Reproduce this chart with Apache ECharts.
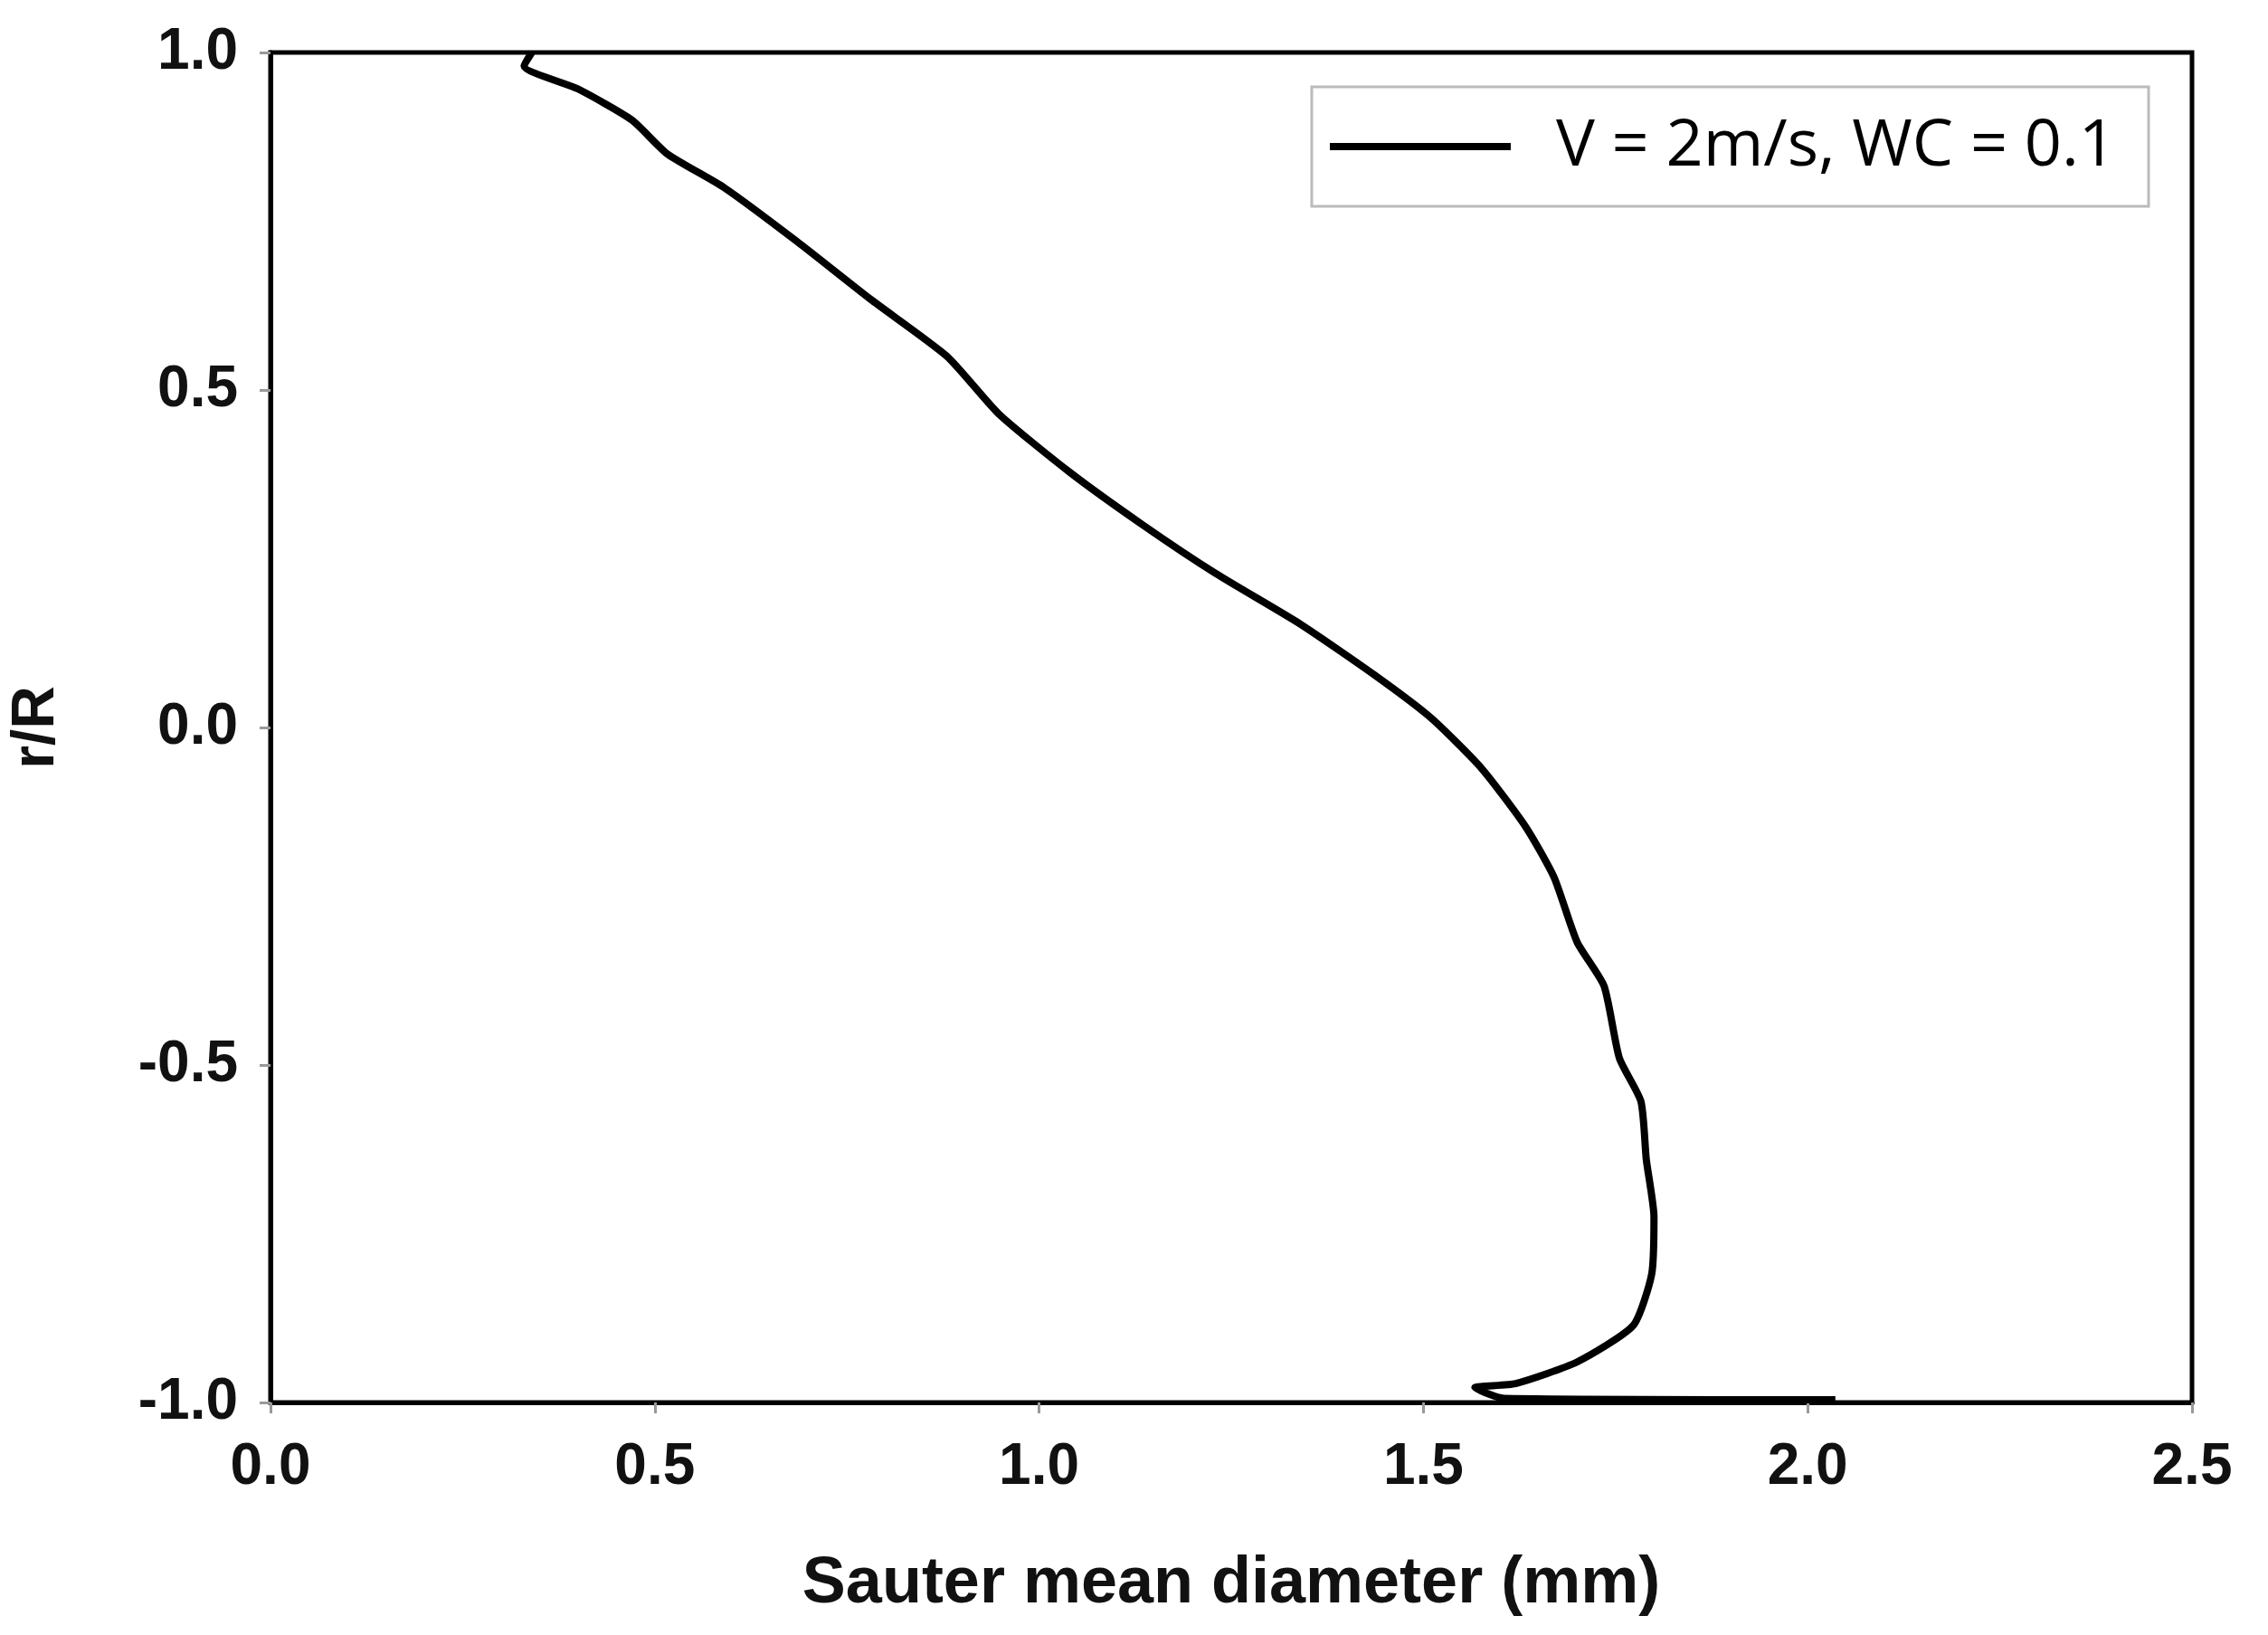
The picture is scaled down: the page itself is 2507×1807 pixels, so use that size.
<!DOCTYPE html>
<html>
<head>
<meta charset="utf-8">
<script src="https://cdn.jsdelivr.net/npm/echarts@6/dist/echarts.min.js"></script>
<style>html,body{margin:0;padding:0;background:#fff}#main{width:2507px;height:1807px}</style>
</head>
<body>
<div id="main"></div>
<script>
// Sauter mean diameter profile, V = 2m/s, WC = 0.1
const diameter = [0.34, 0.33, 0.40, 0.47, 0.516, 0.59, 0.685, 0.78, 0.88, 0.948, 1.04, 1.135, 1.23, 1.34, 1.436, 1.51, 1.576, 1.633, 1.67, 1.70, 1.735, 1.755, 1.783, 1.79, 1.80, 1.797, 1.773, 1.70, 1.62, 1.567, 1.605, 2.036];
const radius = [1.0, 0.98, 0.946, 0.90, 0.85, 0.80, 0.72, 0.635, 0.55, 0.464, 0.378, 0.30, 0.228, 0.153, 0.078, 0.014, -0.061, -0.147, -0.222, -0.318, -0.383, -0.49, -0.554, -0.64, -0.725, -0.81, -0.886, -0.94, -0.972, -0.978, -0.994, -0.996];
const seriesName = 'V = 2m/s, WC = 0.1';

var dom = document.getElementById('main');
var myChart = echarts.init(dom, null, { renderer: 'canvas' });
var tickFont = 'Liberation Sans Narrow, Liberation Sans, Arial, sans-serif';

var option = {
    animation: false,
    backgroundColor: '#fff',
    grid: {
        left: 294, right: 84, top: 58, bottom: 257,
        show: true, borderColor: '#000', borderWidth: 5
    },
    legend: {
        right: 132, top: 96,
        padding: [30, 36, 30, 20],
        borderColor: '#bbb', borderWidth: 3,
        itemWidth: 200, itemHeight: 8, itemGap: 10,
        icon: 'rect',
        textStyle: { fontSize: 72, color: '#000', fontFamily: 'Open Sans, sans-serif', padding: [0, 0, 0, 45] },
        data: [{ name: seriesName, itemStyle: { color: '#000' } }]
    },
    xAxis: {
        type: 'value', min: 0, max: 2.5, interval: 0.5,
        name: 'Sauter mean diameter (mm)', nameLocation: 'middle', nameGap: 165,
        nameTextStyle: { fontSize: 72, fontWeight: 'bold', color: '#111', fontFamily: 'Liberation Sans, Arial, sans-serif' },
        axisLine: { show: true, onZero: false, lineStyle: { color: '#000', width: 5 } },
        axisTick: { show: true, length: 12, inside: false, lineStyle: { color: '#999', width: 3 } },
        axisLabel: { fontSize: 64, fontWeight: 'bold', color: '#111', margin: 40, fontFamily: tickFont,
            formatter: v => v.toFixed(1) },
        splitLine: { show: false }
    },
    yAxis: {
        type: 'value', min: -1, max: 1, interval: 0.5,
        name: 'r/R', nameLocation: 'middle', nameGap: 225, nameRotate: 90,
        nameTextStyle: { fontSize: 66, fontWeight: 'bold', color: '#111', fontFamily: 'Liberation Sans, Arial, sans-serif' },
        axisLine: { show: true, onZero: false, lineStyle: { color: '#000', width: 5 } },
        axisTick: { show: true, length: 12, inside: false, lineStyle: { color: '#999', width: 3 } },
        axisLabel: { fontSize: 64, fontWeight: 'bold', color: '#111', margin: 36, fontFamily: tickFont,
            formatter: v => v.toFixed(1) },
        splitLine: { show: false }
    },
    series: [{
        name: seriesName,
        type: 'line',
        data: diameter.map((d, i) => [d, radius[i]]),
        symbol: 'none',
        smooth: 0.2,
        lineStyle: { color: '#000', width: 8 },
        itemStyle: { color: '#000' }
    }]
};

myChart.setOption(option);
window.addEventListener('resize', myChart.resize);
</script>
</body>
</html>
